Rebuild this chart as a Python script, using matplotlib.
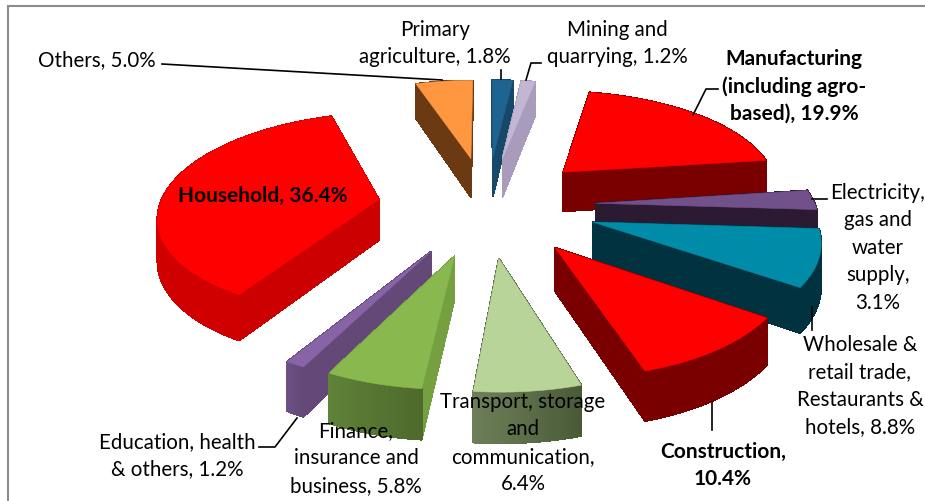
import numpy as np
import matplotlib
matplotlib.use('Agg')
import matplotlib.pyplot as plt
from matplotlib.colors import to_rgb
from matplotlib.patches import Polygon, Rectangle

categories = ['Primary\nagriculture, 1.8%', 'Mining and\nquarrying, 1.2%',
              'Manufacturing\n(including agro-\nbased), 19.9%',
              'Electricity,\ngas and\nwater\nsupply,\n3.1%',
              'Wholesale &\nretail trade,\nRestaurants &\nhotels, 8.8%',
              'Construction,\n10.4%', 'Transport, storage\nand\ncommunication,\n6.4%',
              'Finance,\ninsurance and\nbusiness, 5.8%',
              'Education, health\n& others, 1.2%', 'Household, 36.4%', 'Others, 5.0%']
shares = [1.8, 1.2, 19.9, 3.1, 8.8, 10.4, 6.4, 5.8, 1.2, 36.4, 5.0]
bold = [False, False, True, False, False, True, False, False, False, True, False]
top_colors = ['#1F6391', '#C3B6D3', '#FF0000', '#72508A', '#008CA8', '#FF0000',
              '#B8D498', '#88B84E', '#8664A6', '#FF0000', '#FF9640']
radial_colors = ['#16486A', '#A99BBB', '#7A0000', '#2C1A33', '#00333F', '#7A0000',
                 '#5C6E48', '#76A040', '#634878', '#CC0000', '#6B3A12']
arc_left = ['#16486A', '#A99BBB', '#7A0000', '#2C1A33', '#00333F', '#7A0000',
            '#6D7F58', '#5F8238', '#6E5085', '#D00000', '#6B3A12']
arc_right = ['#16486A', '#A99BBB', '#7A0000', '#2C1A33', '#00333F', '#7A0000',
             '#4A5A38', '#4E6A2C', '#634878', '#D00000', '#6B3A12']

# label centre x, first line y
label_x = [435, 617, 794, 878, 860, 723, 523, 356, 177, 263, 97]
label_y = [30, 30, 59, 193, 345, 452, 402, 431, 442, 196, 60]
leaders = [[(501, 70), (501, 79)],
           [(541, 63), (531, 63), (526, 80)],
           [(718, 89), (706, 89), (693, 115)],
           [(812, 199), (827, 199)],
           [(812, 307), (812, 330)],
           [(712, 402), (712, 430)],
           [(259, 447), (275, 447), (297, 418)],
           [(162, 64), (442, 80)]]

# perspective of the tilted pie
CX, CY = 487, 205
RX, RY = 219, 100
DEPTH = 7.5
THICK = 41
EXPLODE = 0.5


def project(wx, wy, down=0.0):
    s = 1 / (1 + wy / DEPTH)
    return CX + RX * wx * s, CY - RY * wy * s + down * s


def mix(a, b, t):
    return tuple((1 - t) * np.array(to_rgb(a)) + t * np.array(to_rgb(b)))


fig = plt.figure(figsize=(9.25, 5.01), dpi=100)
ax = fig.add_axes([0, 0, 1, 1])
ax.set_xlim(0, 925)
ax.set_ylim(501, 0)
ax.axis('off')
ax.add_patch(Rectangle((8, 6), 930, 500, fc='white', ec='#8C8C8C', lw=1.5, zorder=0))

edges = np.radians(np.concatenate([[0], np.cumsum(shares)]) * 3.6)
mids = (edges[:-1] + edges[1:]) / 2
order = np.argsort(-np.cos(mids))
for n, i in enumerate(order):
    ox = EXPLODE * np.sin(mids[i])
    oy = EXPLODE * np.cos(mids[i])
    th = np.linspace(edges[i], edges[i + 1], 41)
    px = ox + np.sin(th)
    py = oy + np.cos(th)
    top = [project(a, b) for a, b in zip(px, py)]
    apex = project(ox, oy)
    faces = []
    for k in [0, -1]:
        quad = [apex, top[k], project(px[k], py[k], THICK), project(ox, oy, THICK)]
        faces.append(((oy + py[k]) / 2, quad, radial_colors[i]))
    for k in range(len(th) - 1):
        quad = [top[k], top[k + 1], project(px[k + 1], py[k + 1], THICK), project(px[k], py[k], THICK)]
        faces.append(((py[k] + py[k + 1]) / 2, quad, mix(arc_right[i], arc_left[i], k / (len(th) - 2))))
    faces.sort(key=lambda f: -f[0])
    z = 1 + n
    for _, quad, c in faces:
        ax.add_patch(Polygon(quad, closed=True, fc=c, ec=c, lw=0.6, antialiased=False, zorder=z))
    ax.add_patch(Polygon([apex] + top, closed=True, fc=top_colors[i], ec=top_colors[i], lw=0.4, zorder=z + 0.5))

for line in leaders:
    ax.plot([p[0] for p in line], [p[1] for p in line], color='black', lw=1.2, zorder=30)

for name, x, y, b in zip(categories, label_x, label_y, bold):
    for j, part in enumerate(name.split('\n')):
        ax.text(x, y + j * 27.4, part, family='Lato', fontsize=15 if b else 14.8, ha='center', va='center',
                fontweight='bold' if b else 'normal', color='black', zorder=40)

fig.savefig('out.png', dpi=100)
